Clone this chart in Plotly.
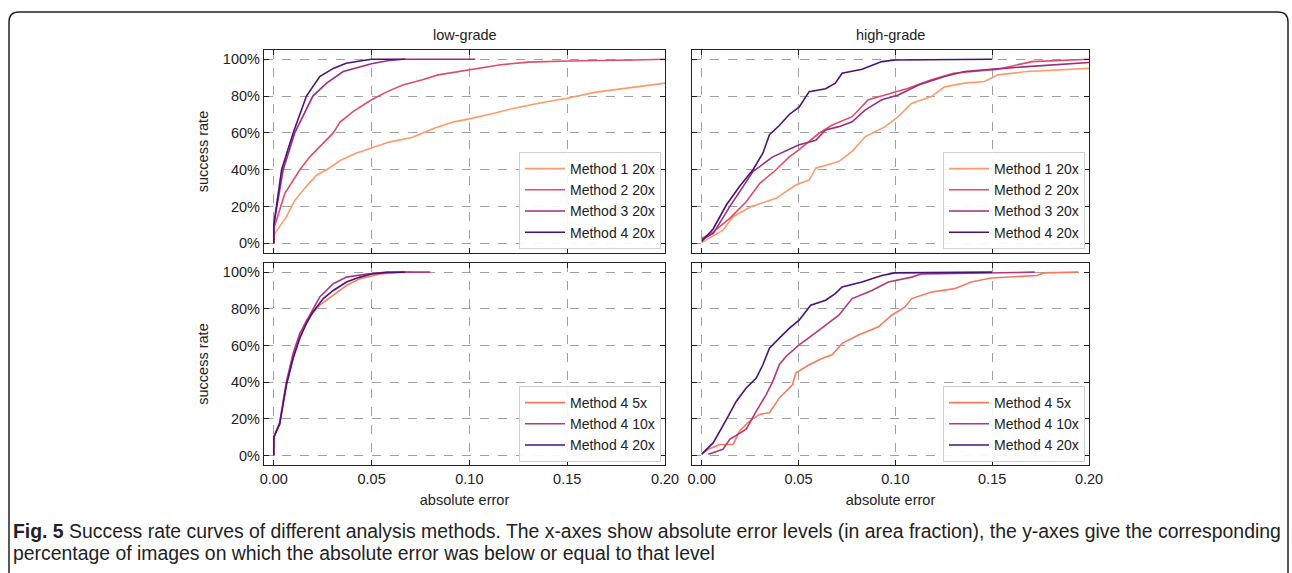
import plotly.graph_objects as go

W, H = 1292, 573

# ---------------- data ----------------
# low-grade, 20x, methods 1-4  (x = absolute error, y = success rate %)
lg_m1_x = [0.0, 0.0, 0.0065, 0.0108, 0.0167, 0.0218, 0.027, 0.034, 0.042, 0.05, 0.059, 0.071, 0.082, 0.092,
           0.1, 0.111, 0.124, 0.14, 0.15, 0.164, 0.181, 0.2]
lg_m1_y = [0, 4.5, 14.5, 23.5, 31, 37, 40, 45, 49, 52, 55, 57.6, 62.5, 66, 67.6, 70.3, 73.7, 77, 78.8, 82, 84.2, 87]

lg_m2_x = [0.0, 0.0, 0.0056, 0.01, 0.0133, 0.0184, 0.025, 0.0304, 0.034, 0.041, 0.05, 0.058, 0.066, 0.076,
           0.084, 0.1, 0.116, 0.13, 0.15, 0.184, 0.2]
lg_m2_y = [0, 8, 27, 34.4, 40, 47, 54.3, 60, 66, 72, 78, 82.4, 86, 88.8, 91.5, 94.2, 97, 98.4, 99, 99.6, 100]

lg_m3_x = [0.0, 0.0, 0.0048, 0.0107, 0.02, 0.027, 0.0355, 0.05, 0.058, 0.066, 0.103]
lg_m3_y = [0, 10, 40, 60, 80, 87, 93.3, 97.5, 99.2, 100, 100]

lg_m4_x = [0.0, 0.0, 0.004, 0.0099, 0.0167, 0.0235, 0.0304, 0.037, 0.0457, 0.05, 0.067]
lg_m4_y = [0, 10, 40, 60, 80, 90.6, 95, 97.8, 99.3, 100, 100]

# high-grade, 20x, methods 1-4
hg_m1_x = [0.0, 0.011, 0.0162, 0.0256, 0.0384, 0.0486, 0.0555, 0.0589, 0.0708, 0.0777, 0.0845, 0.0947,
           0.1015, 0.1083, 0.1186, 0.1254, 0.1357, 0.146, 0.153, 0.168, 0.2]
hg_m1_y = [0.4, 7.2, 14.5, 20, 24.5, 31.7, 34.4, 40.8, 44.4, 50, 58, 63.4, 68.8, 76, 79.7, 85, 87, 87.9,
           91.5, 93.3, 95]

hg_m2_x = [0.0, 0.006, 0.0145, 0.023, 0.03, 0.0384, 0.0452, 0.05, 0.0606, 0.0674, 0.0777, 0.086, 0.0947,
           0.1066, 0.1186, 0.13, 0.153, 0.1706, 0.2]
hg_m2_y = [2.7, 6.3, 13.6, 22.6, 32.6, 40, 47, 50.7, 59.8, 64.3, 68.8, 78, 80.6, 84.2, 88.8, 92.4, 94.6,
           98.7, 100]

hg_m3_x = [0.0, 0.006, 0.0145, 0.0265, 0.0367, 0.05, 0.0589, 0.064, 0.0708, 0.0777, 0.0845, 0.093, 0.1015,
           0.112, 0.1254, 0.1357, 0.151, 0.168, 0.2]
hg_m3_y = [2, 5.4, 20, 39, 47, 53.4, 56, 61.6, 63.4, 66, 72.5, 78, 80.6, 86, 90.6, 93.3, 94.6, 96, 98.2]

hg_m4_x = [0.0, 0.006, 0.0128, 0.0196, 0.0265, 0.0316, 0.035, 0.0401, 0.0452, 0.0503, 0.0555, 0.064,
           0.069, 0.0725, 0.0828, 0.093, 0.1, 0.15]
hg_m4_y = [1, 8, 21, 31, 40, 49, 59, 64, 70, 74, 82.4, 84, 87, 92.4, 94.6, 98.7, 99.6, 100]

# low-grade, method 4 at 5x / 10x / 20x
lr_5x_x = [0.0, 0.0, 0.003, 0.0065, 0.0116, 0.0167, 0.0235, 0.0304, 0.0372, 0.044, 0.0543, 0.0645, 0.071]
lr_5x_y = [0, 10, 17, 39.5, 60, 73.8, 82, 87.4, 92.8, 96.4, 99, 99.8, 100]

lr_10x_x = [0.0, 0.0, 0.003, 0.0065, 0.0099, 0.0133, 0.0184, 0.0235, 0.0304, 0.0372, 0.0474, 0.058, 0.08]
lr_10x_y = [0, 10, 18, 40.4, 55.8, 66.6, 76.5, 86.5, 93.7, 97.3, 99, 100, 100]

lr_20x_x = [0.0, 0.0, 0.003, 0.0065, 0.0099, 0.0133, 0.0167, 0.02, 0.0253, 0.0304, 0.0372, 0.044, 0.05,
            0.0577, 0.067]
lr_20x_y = [0, 10, 17, 38.6, 53, 64, 72, 78.3, 85.6, 90, 94.6, 97.3, 99, 99.8, 100]

# high-grade, method 4 at 5x / 10x / 20x
hr_5x_x = [0.0, 0.0034, 0.0094, 0.0162, 0.0196, 0.0247, 0.0299, 0.035, 0.0401, 0.0469, 0.0486, 0.0555,
           0.0623, 0.0674, 0.0725, 0.081, 0.0913, 0.0981, 0.105, 0.1084, 0.1186, 0.1306, 0.1391, 0.1495,
           0.1732, 0.1766, 0.1945]
hr_5x_y = [0.7, 3.4, 6, 6, 13.4, 18.8, 22.4, 23.3, 31.4, 38.6, 45, 49.5, 53, 54.9, 61.2, 65.7, 70.2, 76.5,
           81, 85.6, 89.2, 91, 94.6, 96.8, 98.2, 99.6, 100]

hr_10x_x = [0.0034, 0.011, 0.0145, 0.023, 0.0282, 0.0333, 0.0367, 0.0401, 0.0435, 0.0503, 0.0572, 0.064,
            0.0708, 0.0777, 0.0879, 0.0964, 0.1084, 0.1135, 0.172]
hr_10x_y = [0.7, 3.4, 8.8, 14.3, 24.2, 33.2, 40.4, 49.5, 54, 60.3, 65.7, 71, 76.5, 85.6, 90, 94.6, 97.3,
            99, 100]

hr_20x_x = [0.0, 0.006, 0.0128, 0.0179, 0.023, 0.0282, 0.0316, 0.035, 0.0401, 0.0452, 0.0503, 0.0563,
            0.064, 0.069, 0.0725, 0.0828, 0.093, 0.0998, 0.15]
hr_20x_y = [0.7, 7, 19.7, 29.6, 36.8, 42.2, 49.5, 58.5, 64, 69.3, 73.8, 82, 84.7, 88.3, 91.9, 94.6, 98.2,
            99.6, 100]

top_names = ["Method 1 20x", "Method 2 20x", "Method 3 20x", "Method 4 20x"]
top_colors = ["#fd9b6b", "#e24c67", "#9b2d80", "#4b1279"]
bot_names = ["Method 4 5x", "Method 4 10x", "Method 4 20x"]
bot_colors = ["#f9795d", "#b5367a", "#4b1279"]

x_ticks = [0.0, 0.05, 0.1, 0.15, 0.2]
x_ticklabels = ["0.00", "0.05", "0.10", "0.15", "0.20"]
y_ticks = [0, 20, 40, 60, 80, 100]
y_ticklabels = ["0%", "20%", "40%", "60%", "80%", "100%"]

panel_titles = ["low-grade", "high-grade"]
caption_line1 = ("<b>Fig. 5</b> Success rate curves of different analysis methods. The x-axes show absolute "
                 "error levels (in area fraction), the y-axes give the corresponding")
caption_line2 = "percentage of images on which the absolute error was below or equal to that level"

# ---------------- layout geometry ----------------
def px_x(p):
    return p / W

def px_y(p):
    return 1 - p / H

col_dom = [[px_x(264), px_x(665)], [px_x(692), px_x(1089)]]
row_dom = [[px_y(253), px_y(50)], [px_y(465), px_y(263)]]

FONT = "Liberation Sans, Arial, sans-serif"
FS = 14.5
fig = go.Figure()

panels = [
    # (row, col, xs, ys, names, colors, legend)
    (0, 0, [lg_m1_x, lg_m2_x, lg_m3_x, lg_m4_x], [lg_m1_y, lg_m2_y, lg_m3_y, lg_m4_y], top_names, top_colors, "legend"),
    (0, 1, [hg_m1_x, hg_m2_x, hg_m3_x, hg_m4_x], [hg_m1_y, hg_m2_y, hg_m3_y, hg_m4_y], top_names, top_colors, "legend2"),
    (1, 0, [lr_5x_x, lr_10x_x, lr_20x_x], [lr_5x_y, lr_10x_y, lr_20x_y], bot_names, bot_colors, "legend3"),
    (1, 1, [hr_5x_x, hr_10x_x, hr_20x_x], [hr_5x_y, hr_10x_y, hr_20x_y], bot_names, bot_colors, "legend4"),
]

legend_pos = {
    "legend": (px_x(661), px_y(152)),
    "legend2": (px_x(1085), px_y(152)),
    "legend3": (px_x(661), px_y(386)),
    "legend4": (px_x(1085), px_y(386)),
}

for i, (r, c, xs, ys, names, colors, leg) in enumerate(panels):
    idx = i + 1
    xa = "x" if idx == 1 else f"x{idx}"
    ya = "y" if idx == 1 else f"y{idx}"
    for xv, yv, nm, col in zip(xs, ys, names, colors):
        fig.add_trace(go.Scatter(x=xv, y=yv, mode="lines", name=nm, line=dict(color=col, width=1.6),
                                 xaxis=xa, yaxis=ya, legend=leg, showlegend=True))
    axis_common = dict(showline=True, linecolor="#222", linewidth=1.3, mirror="allticks", ticks="inside",
                       ticklen=5, tickwidth=1.2, tickcolor="#222", showgrid=True, gridcolor="#a0a0a0",
                       griddash="dash", gridwidth=1, zeroline=False, automargin=False,
                       tickfont=dict(family=FONT, size=FS, color="#222"))
    xkey = "xaxis" if idx == 1 else f"xaxis{idx}"
    ykey = "yaxis" if idx == 1 else f"yaxis{idx}"
    fig.layout[xkey] = dict(domain=col_dom[c], anchor=ya, range=[-0.005, 0.2], tickvals=x_ticks,
                            ticktext=x_ticklabels, showticklabels=(r == 1),
                            title=dict(text="absolute error" if r == 1 else "", standoff=9,
                                       font=dict(family=FONT, size=FS, color="#222")),
                            **axis_common)
    fig.layout[ykey] = dict(domain=row_dom[r], anchor=xa, range=[-5.2, 105], tickvals=y_ticks,
                            ticktext=y_ticklabels, showticklabels=(c == 0),
                            title=dict(text="success rate" if c == 0 else "", standoff=10,
                                       font=dict(family=FONT, size=FS, color="#222")),
                            **axis_common)
    lx, ly = legend_pos[leg]
    fig.layout[leg] = dict(x=lx, y=ly, xanchor="right", yanchor="top", bgcolor="rgba(255,255,255,0.9)",
                           bordercolor="#d0d0d0", borderwidth=1, font=dict(family=FONT, size=14, color="#222"),
                           tracegroupgap=0, itemwidth=40)

annotations = []
for c, t in enumerate(panel_titles):
    annotations.append(dict(text=t, x=sum(col_dom[c]) / 2, y=px_y(35), xref="paper", yref="paper",
                            showarrow=False, font=dict(family=FONT, size=FS, color="#222"),
                            xanchor="center", yanchor="middle"))
CAP_FONT = "Liberation Sans, Arial, sans-serif"
annotations.append(dict(text=caption_line1, x=px_x(11), y=px_y(531), xref="paper", yref="paper",
                        showarrow=False, xanchor="left", yanchor="middle", align="left",
                        font=dict(family=CAP_FONT, size=19.4, color="#222")))
annotations.append(dict(text=caption_line2, x=px_x(11), y=px_y(553), xref="paper", yref="paper",
                        showarrow=False, xanchor="left", yanchor="middle", align="left",
                        font=dict(family=CAP_FONT, size=19.4, color="#222")))

# rounded frame around the figure
x0, x1, y0, y1, rr = px_x(9), px_x(1288), px_y(12), px_y(590), 10
rx, ry = rr / W, rr / H
frame_path = (f"M {x0},{y1} L {x0},{y0 - ry} Q {x0},{y0} {x0 + rx},{y0} "
              f"L {x1 - rx},{y0} Q {x1},{y0} {x1},{y0 - ry} L {x1},{y1}")

fig.update_layout(
    width=W, height=H, margin=dict(l=0, r=0, t=0, b=0, autoexpand=False),
    paper_bgcolor="white", plot_bgcolor="white",
    annotations=annotations,
    shapes=[dict(type="path", path=frame_path, xref="paper", yref="paper",
                 line=dict(color="#222", width=1.5))],
    font=dict(family=FONT, color="#222"),
)

fig.write_html("out.html", config={"displayModeBar": False},
               post_script="document.body.style.margin='0';document.body.style.overflow='hidden';")
